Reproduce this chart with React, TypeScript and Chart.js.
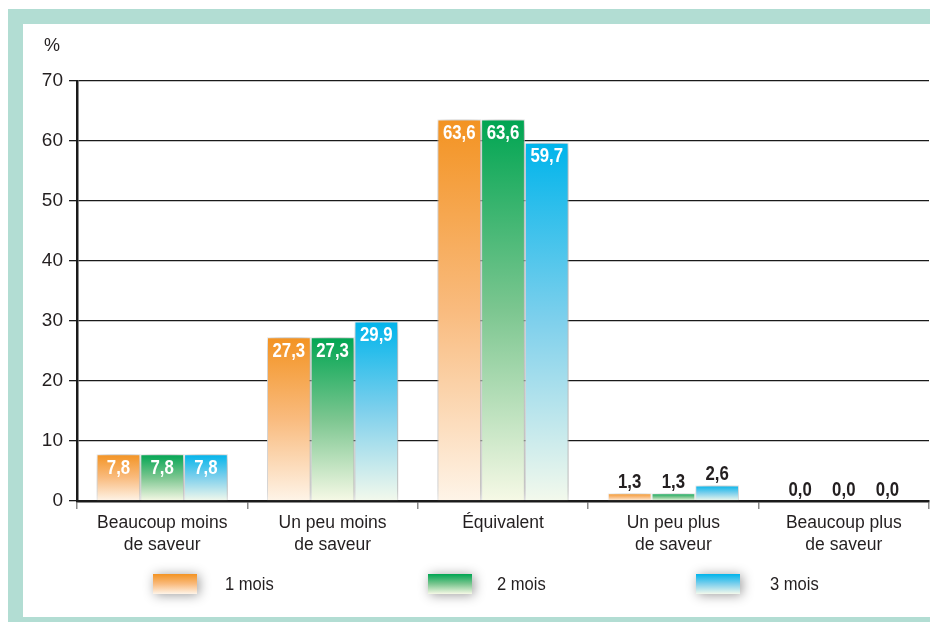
import React, { useEffect, useRef } from "react";
import { Chart, registerables } from "chart.js";

Chart.register(...registerables);

const categories: (string | string[])[] = [
  ["Beaucoup moins", "de saveur"],
  ["Un peu moins", "de saveur"],
  "Équivalent",
  ["Un peu plus", "de saveur"],
  ["Beaucoup plus", "de saveur"],
];
const seriesLabels = ["1 mois", "2 mois", "3 mois"];
const month1 = [7.8, 27.3, 63.6, 1.3, 0.0];
const month2 = [7.8, 27.3, 63.6, 1.3, 0.0];
const month3 = [7.8, 29.9, 59.7, 2.6, 0.0];
const yMax = 70;
const yStep = 10;
const yTitle = "%";

const topColors = ["#f39322", "#00a552", "#00b4eb"];
const midColors = ["#f9bb7e", "#7cc690", "#7fd0ec"];
const bottomColors = ["#fef4e8", "#f6f9e6", "#f3f9ec"];

const FONT = "'Liberation Sans', Arial, sans-serif";
const TEXT = "#231f20";

function fmt(v: number) {
  return v.toFixed(1).replace(".", ",");
}

function drawCondensed(ctx: CanvasRenderingContext2D, text: string, x: number, y: number, sx: number) {
  ctx.save();
  ctx.translate(x, y);
  ctx.scale(sx, 1);
  ctx.fillText(text, 0, 0);
  ctx.restore();
}

const shadowPlugin = {
  id: "barShadow",
  beforeDatasetsDraw(chart: any) {
    const ctx = chart.ctx;
    ctx.save();
    ctx.shadowColor = "rgba(0,0,0,0.45)";
    ctx.shadowBlur = 16;
    ctx.shadowOffsetX = 2;
    ctx.shadowOffsetY = 1;
  },
  afterDatasetsDraw(chart: any) {
    chart.ctx.restore();
  },
};

const labelPlugin = {
  id: "valueLabels",
  afterDatasetsDraw(chart: any) {
    const ctx = chart.ctx as CanvasRenderingContext2D;
    ctx.save();
    ctx.shadowColor = "transparent";
    ctx.font = `bold 20px ${FONT}`;
    ctx.textAlign = "center";
    ctx.textBaseline = "middle";
    chart.data.datasets.forEach((ds: any, di: number) => {
      const meta = chart.getDatasetMeta(di);
      meta.data.forEach((el: any, i: number) => {
        const v = ds.data[i] as number;
        const txt = fmt(v);
        if (v >= 5) {
          ctx.fillStyle = "#ffffff";
          drawCondensed(ctx, txt, el.x, el.y + 14, 0.84);
        } else {
          ctx.fillStyle = TEXT;
          drawCondensed(ctx, txt, el.x, el.y - 11, 0.84);
        }
      });
    });
    ctx.restore();
  },
};

const extrasPlugin = {
  id: "extras",
  afterDraw(chart: any) {
    const ctx = chart.ctx as CanvasRenderingContext2D;
    ctx.save();
    ctx.fillStyle = TEXT;
    ctx.font = `18px ${FONT}`;
    ctx.textAlign = "center";
    ctx.textBaseline = "middle";
    ctx.fillText(yTitle, 52, 46);
    const boxX = [153, 428, 696];
    const textX = [225, 497, 770];
    const boxY = 574;
    const boxW = 44;
    const boxH = 20;
    chart.data.datasets.forEach((ds: any, i: number) => {
      const g = ctx.createLinearGradient(0, boxY, 0, boxY + boxH);
      g.addColorStop(0, topColors[i]);
      g.addColorStop(0.5, midColors[i]);
      g.addColorStop(1, bottomColors[i]);
      ctx.save();
      ctx.shadowColor = "rgba(0,0,0,0.4)";
      ctx.shadowBlur = 12;
      ctx.shadowOffsetX = 2;
      ctx.shadowOffsetY = 1;
      ctx.fillStyle = g;
      ctx.fillRect(boxX[i], boxY, boxW, boxH);
      ctx.restore();
      ctx.fillStyle = TEXT;
      ctx.font = `18px ${FONT}`;
      ctx.textAlign = "left";
      ctx.textBaseline = "middle";
      drawCondensed(ctx, ds.label, textX[i], boxY + boxH / 2 + 1, 0.92);
    });
    ctx.restore();
  },
};

function makeGradient(i: number) {
  return (c: any) => {
    const chart = c.chart;
    const y = chart.scales?.y;
    if (!y || c.type !== "data" || typeof c.raw !== "number") return topColors[i];
    const top = y.getPixelForValue(c.raw);
    const bottom = y.getPixelForValue(0);
    if (!isFinite(top) || !isFinite(bottom) || bottom - top < 1) return topColors[i];
    const g = chart.ctx.createLinearGradient(0, top, 0, bottom);
    g.addColorStop(0, topColors[i]);
    g.addColorStop(0.5, midColors[i]);
    g.addColorStop(1, bottomColors[i]);
    return g;
  };
}

export default function App() {
  const ref = useRef<HTMLCanvasElement | null>(null);

  useEffect(() => {
    if (!ref.current) return;
    const series = [month1, month2, month3];
    const chart = new Chart(ref.current, {
      type: "bar",
      data: {
        labels: categories,
        datasets: series.map((d, i) => ({
          label: seriesLabels[i],
          data: d,
          backgroundColor: makeGradient(i),
          borderColor: "rgba(255,255,255,0.85)",
          borderWidth: 1,
          borderSkipped: "bottom",
          categoryPercentage: 0.77,
          barPercentage: 1.0,
        })),
      },
      options: {
        responsive: false,
        animation: false,
        devicePixelRatio: 1,
        layout: { padding: { top: 81, right: 1, left: 0, bottom: 0 } },
        plugins: {
          legend: { display: false },
          tooltip: { enabled: false },
        },
        scales: {
          x: {
            offset: true,
            grid: {
              offset: true,
              drawOnChartArea: false,
              drawTicks: true,
              tickLength: 8,
              color: "#8a8a8a",
              lineWidth: 1.5,
            },
            border: { display: true, color: "#1a1a1a", width: 2.5 },
            ticks: {
              color: TEXT,
              font: { family: FONT, size: 17.5, lineHeight: 1.28 },
              padding: 3,
              maxRotation: 0,
              autoSkip: false,
            },
            afterFit: (s: any) => {
              s.height = 121;
            },
          },
          y: {
            min: 0,
            max: yMax,
            grid: {
              color: "#1a1a1a",
              lineWidth: 1.3,
              tickLength: 8,
              drawTicks: true,
            },
            border: { display: true, color: "#1a1a1a", width: 2.5 },
            ticks: {
              stepSize: yStep,
              color: TEXT,
              font: { family: FONT, size: 19 },
              padding: 6,
            },
            afterFit: (s: any) => {
              s.width = 77;
            },
          },
        },
      },
      plugins: [shadowPlugin, labelPlugin, extrasPlugin],
    } as any);
    return () => chart.destroy();
  }, []);

  return (
    <div style={{ position: "absolute", left: 0, top: 0, width: 930, height: 622, overflow: "hidden" }}>
      <div
        style={{
          position: "absolute",
          left: 8,
          top: 9,
          width: 922,
          height: 613,
          background: "#b2ddd3",
        }}
      />
      <div
        style={{
          position: "absolute",
          left: 23,
          top: 24,
          width: 907,
          height: 593,
          background: "#ffffff",
        }}
      />
      <canvas
        ref={ref}
        width={930}
        height={622}
        style={{ position: "absolute", left: 0, top: 0, width: 930, height: 622 }}
      />
    </div>
  );
}
